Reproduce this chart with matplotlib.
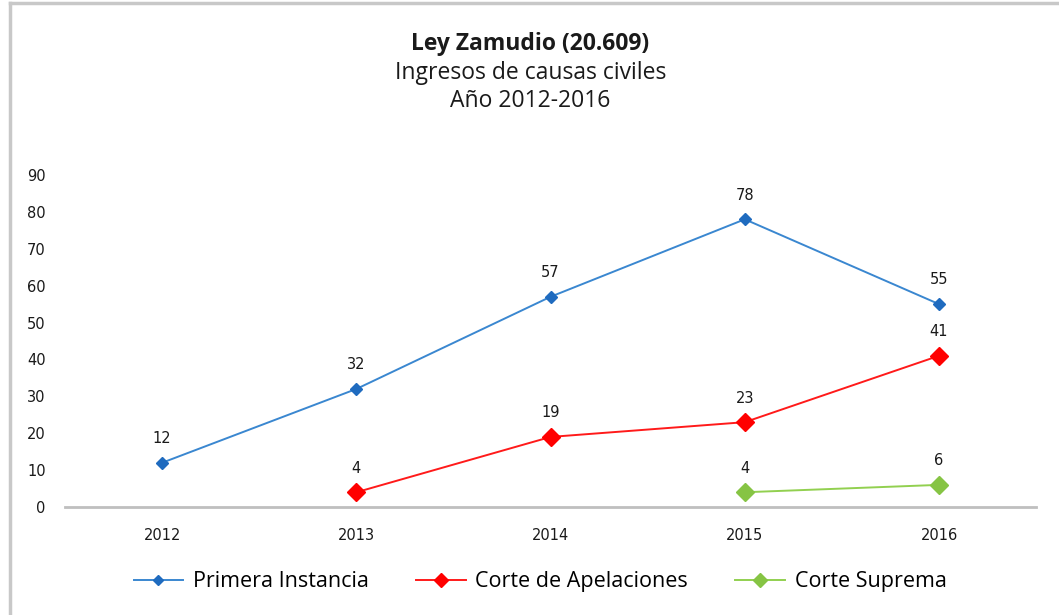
import numpy as np
import matplotlib
matplotlib.use('Agg')
import matplotlib.pyplot as plt
from matplotlib.lines import Line2D

# ── datos ─────────────────────────────────────────────────────────────────────
years = ['2012', '2013', '2014', '2015', '2016']
primera = [12, 32, 57, 78, 55]
apelaciones = [np.nan, 4, 19, 23, 41]
suprema = [np.nan, np.nan, np.nan, 4, 6]
y_ticks = [0, 10, 20, 30, 40, 50, 60, 70, 80, 90]

series = [
    ('Primera Instancia', primera, '#3a87d0', '#1f6bbf', 6.6),
    ('Corte de Apelaciones', apelaciones, '#ff1a1a', '#ff0000', 9.0),
    ('Corte Suprema', suprema, '#92d050', '#86c444', 9.0),
]

# ── lienzo ────────────────────────────────────────────────────────────────────
fig = plt.figure(figsize=(10.59, 6.15), dpi=100, facecolor='white')
ax = fig.add_axes([0.0614, 0.1756, 0.917, 0.5398])

x = np.arange(len(years))
for name, vals, lc, mc, ms in series:
    ax.plot(x, vals, color=lc, lw=1.4, marker='D', markersize=ms,
            markerfacecolor=mc, markeredgecolor=mc, label=name, zorder=3)
    for xi, v in zip(x, vals):
        if not np.isnan(v):
            ax.annotate(f'{v:g}', (xi, v), xytext=(0, 12), textcoords='offset points',
                        ha='center', va='bottom', fontsize=10.5, color='#1a1a1a',
                        family='DejaVu Sans')

ax.set_xlim(-0.5, len(years) - 0.5)
ax.set_ylim(0, 90)
ax.set_yticks(y_ticks)
ax.set_xticks(x)
ax.set_xticklabels(years)
for s in ('top', 'right', 'left'):
    ax.spines[s].set_visible(False)
ax.spines['bottom'].set_color('#bfbfbf')
ax.spines['bottom'].set_linewidth(2)
ax.tick_params(axis='y', length=0, pad=14, labelsize=10.5, labelcolor='#1a1a1a')
ax.tick_params(axis='x', length=0, pad=15, labelsize=10.5, labelcolor='#1a1a1a')

# ── títulos ───────────────────────────────────────────────────────────────────
fig.text(0.501, 0.929, 'Ley Zamudio (20.609)', ha='center', va='center',
         fontsize=16.5, fontweight='bold', family='Open Sans', color='#1a1a1a')
fig.text(0.501, 0.881, 'Ingresos de causas civiles', ha='center', va='center',
         fontsize=16.5, family='Open Sans', color='#1a1a1a')
fig.text(0.501, 0.835, 'Año 2012-2016', ha='center', va='center',
         fontsize=16.5, family='Open Sans', color='#1a1a1a')

# ── leyenda ───────────────────────────────────────────────────────────────────
leg = fig.legend(loc='center', bbox_to_anchor=(0.51, 0.054), ncol=3, frameon=False,
                 prop={'family': 'Open Sans', 'size': 15.5}, markerscale=0.8,
                 handlelength=2.3, columnspacing=2.2, handletextpad=0.45)

# marco gris
fig.add_artist(Line2D([10 / 1059, 10 / 1059], [0, 1 - 3 / 615], color='#c8c8c8', lw=2.5,
                      transform=fig.transFigure))
fig.add_artist(Line2D([10 / 1059, 1], [1 - 3 / 615, 1 - 3 / 615], color='#c8c8c8', lw=2.5,
                      transform=fig.transFigure))

fig.savefig('out.png', dpi=100, facecolor='white')
